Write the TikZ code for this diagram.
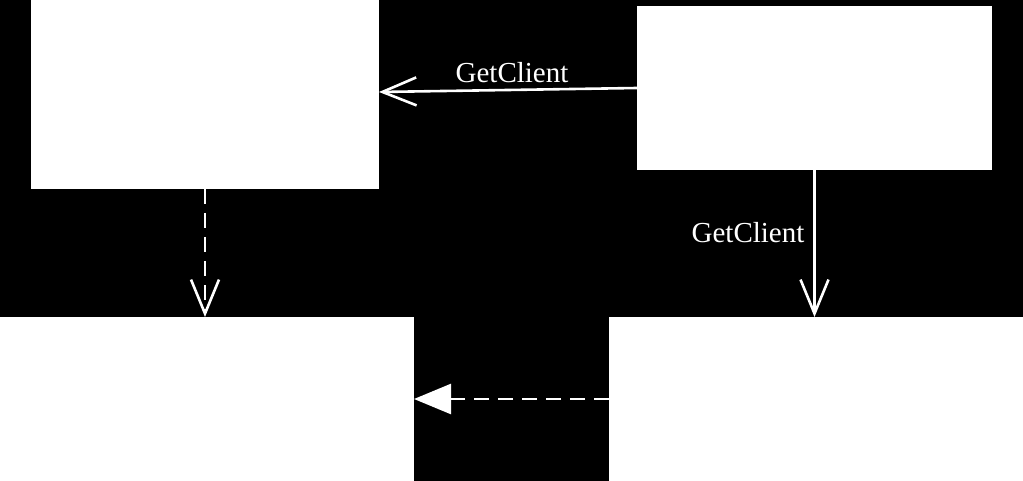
\documentclass[tikz,border=0pt]{standalone}
\usepackage{fontspec}
\setmainfont{Liberation Serif}
\usetikzlibrary{arrows.meta}
\begin{document}
\begin{tikzpicture}[x=1pt,y=-1pt,
  box/.style={fill=white,draw=none,inner sep=0pt,outer sep=0pt,anchor=north west},
  conn/.style={draw=white,line width=2.6pt},
  vtip/.style={-{Straight Barb[length=34pt,width=28pt,line width=2.6pt]}},
  ttip/.style={-{Triangle[length=37pt,width=30pt]}},
  dashline/.style={dash pattern=on 15pt off 9pt},
  lbl/.style={text=white,font=\fontsize{29}{34}\selectfont,inner sep=0pt}]
\fill[black] (0,0) rectangle (1023,481);
\useasboundingbox (0,0) rectangle (1023,481);
\node[box,minimum width=348pt,minimum height=189pt] (A) at (31,0) {};
\node[box,minimum width=355pt,minimum height=164pt] (B) at (637,6) {};
\node[box,minimum width=414pt,minimum height=164pt] (C) at (0,317) {};
\node[box,minimum width=414pt,minimum height=164pt] (D) at (609,317) {};
\draw[conn,vtip] (B.west) -- ([yshift=2.5pt]A.east);
\node[lbl] (l1) at (512,73) {GetClient};
\draw[conn,vtip] (B.south) -- (B.south |- D.north);
\node[lbl] (l2) at (748,233) {GetClient};
\draw[conn,dashline,vtip] (A.south) -- (A.south |- C.north);
\draw[conn,dashline,ttip] (D.west) -- (D.west -| C.east);
\end{tikzpicture}
\end{document}
